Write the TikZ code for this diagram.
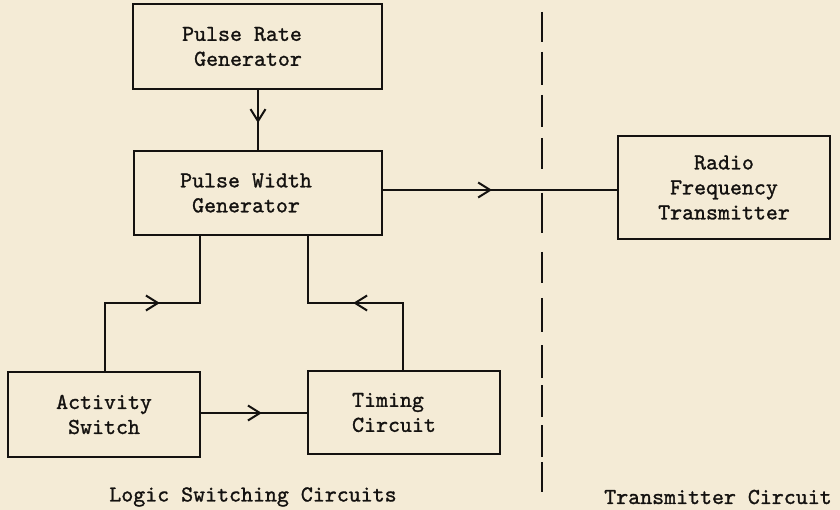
\documentclass[tikz,border=0pt]{standalone}
\usepackage{fontspec}
\newfontfamily\twfont{lmmono10-regular.otf}[FakeBold=1.2]
\usetikzlibrary{arrows.meta,decorations.markings}
\definecolor{paper}{RGB}{244,235,214}
\definecolor{ink}{RGB}{20,18,16}
\tikzset{
  blk/.style={draw=ink, line width=2pt, rectangle, inner sep=0pt, align=center,
    font=\fontsize{22.8}{25}\selectfont\twfont\bfseries, text=ink},
  lbl/.style={font=\fontsize{22.8}{25}\selectfont\twfont\bfseries, text=ink, inner sep=0pt},
  conn/.style={draw=ink, line width=2pt},
  midarrow/.style={conn, postaction={decorate}, decoration={markings,
    mark=at position #1 with {\arrow[ink, line width=2pt]{Straight Barb[length=12pt,width=15pt]}}}},
  divider/.style={draw=ink, line width=1.7pt}
}
\begin{document}
\begin{tikzpicture}[x=1pt,y=-1pt]
\fill[paper] (0,0) rectangle (840,510);
\useasboundingbox (0,0) rectangle (840,510);

\node[blk, align=left, minimum width=249pt, minimum height=85pt] (prg) at (257.5,46.5) {Pulse Rate\hspace*{31pt}\\\hspace*{12pt}Generator};
\node[blk, align=left, minimum width=248pt, minimum height=84pt] (pwg) at (258,193) {Pulse Width\hspace*{24pt}\\\hspace*{12pt}Generator};
\node[blk, minimum width=212pt, minimum height=103pt] (rf) at (724,187.5) {Radio\\Frequency\\Transmitter};
\node[blk, minimum width=192pt, minimum height=85pt] (act) at (104,414.5) {Activity\\Switch};
\node[blk, align=left, minimum width=192pt, minimum height=83pt] (tim) at (404,412.5) {Timing\\Circuit\hspace*{20pt}};

\node[lbl] (l1) at (253,497) {Logic Switching Circuits};
\node[lbl] (l2) at (718,497) {Transmitter Circuit};

\coordinate (jl) at (105,303);
\coordinate (jr) at (403,303);

\draw[midarrow=0.55] (prg.south -| 258,0) -- (pwg.north -| 258,0);
\draw[midarrow=0.466] (pwg.east |- 0,190) -- (rf.west |- 0,190);
\draw[midarrow=0.534] (act.north -| jl) -- (jl) -- (jl -| 200,0) -- (pwg.south -| 200,0);
\draw[midarrow=0.51] (tim.north -| jr) -- (jr) -- (jr -| 308,0) -- (pwg.south -| 308,0);
\draw[midarrow=0.574] (act.east |- 0,413) -- (tim.west |- 0,413);

\foreach \a/\b in {12/42,52/85,95/127,138/169,193/233,252/283,298/332,345/378,385/417,425/457,462/492}
  \draw[divider] (542,\a) -- (542,\b);
\end{tikzpicture}
\end{document}
